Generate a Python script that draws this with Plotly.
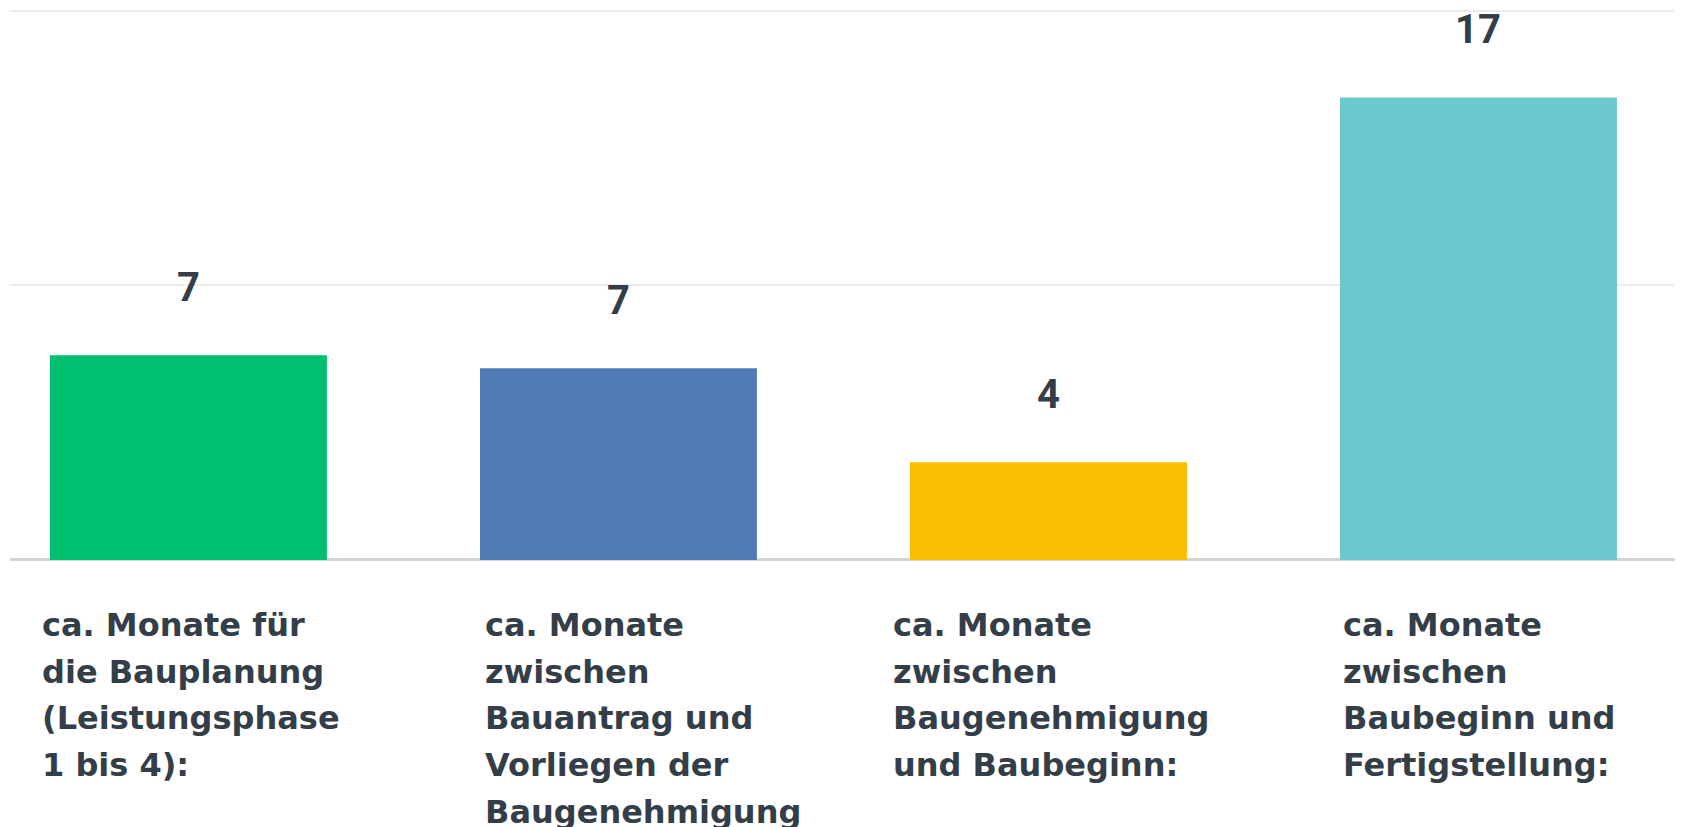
import plotly.graph_objects as go

categories = [
    "ca. Monate für die Bauplanung (Leistungsphase 1 bis 4):",
    "ca. Monate zwischen Bauantrag und Vorliegen der Baugenehmigung",
    "ca. Monate zwischen Baugenehmigung und Baubeginn:",
    "ca. Monate zwischen Baubeginn und Fertigstellung:",
]
label_lines = [
    ["ca. Monate für", "die Bauplanung", "(Leistungsphase", "1 bis 4):"],
    ["ca. Monate", "zwischen", "Bauantrag und", "Vorliegen der", "Baugenehmigung"],
    ["ca. Monate", "zwischen", "Baugenehmigung", "und Baubeginn:"],
    ["ca. Monate", "zwischen", "Baubeginn und", "Fertigstellung:"],
]
values = [7.45, 6.98, 3.56, 16.84]
colors = ["#00bf6f", "#507cb6", "#f9be00", "#6bc8cd"]

TEXT = "#333e48"
# page has an 8px body margin: keep the figure inside the 1683x827 viewport
W, H = 1675, 819
label_xshift = [-148, -135, -157, -137]  # px offset of label left edge from category centre

fig = go.Figure()
fig.add_trace(go.Bar(
    x=categories, y=values, marker_color=colors, width=0.644,
    marker_line_width=0, hoverinfo="skip",
))

ann = []
for c, v in zip(categories, values):
    ann.append(dict(x=c, y=v, xref="x", yref="y", text=f"{v:.0f}", showarrow=False,
                    yanchor="middle", yshift=68,
                    font=dict(family="Roboto", size=40, color=TEXT, weight="bold")))
for i, (c, lines) in enumerate(zip(categories, label_lines)):
    for j, ln in enumerate(lines):
        ann.append(dict(x=c, y=0, xref="x", yref="paper", text=ln, showarrow=False,
                        xanchor="left", yanchor="middle", xshift=label_xshift[i],
                        yshift=-(64 + 46.7 * j),
                        font=dict(family="DejaVu Sans", size=32, color=TEXT, weight="bold")))

fig.update_layout(
    width=W, height=H,
    margin=dict(l=2, r=0, t=0, b=H - 553),
    paper_bgcolor="white", plot_bgcolor="white",
    showlegend=False,
    annotations=ann,
    xaxis=dict(range=[-0.415, 3.4756], showticklabels=False, showgrid=False,
               zeroline=False, showline=False, ticks=""),
    yaxis=dict(range=[-0.04, 20.1], dtick=10, tick0=0, showticklabels=False,
               gridcolor="#ececec", gridwidth=2,
               zeroline=True, zerolinecolor="#d2d2d2", zerolinewidth=3,
               showline=False, ticks=""),
)
fig.write_html("out.html")
